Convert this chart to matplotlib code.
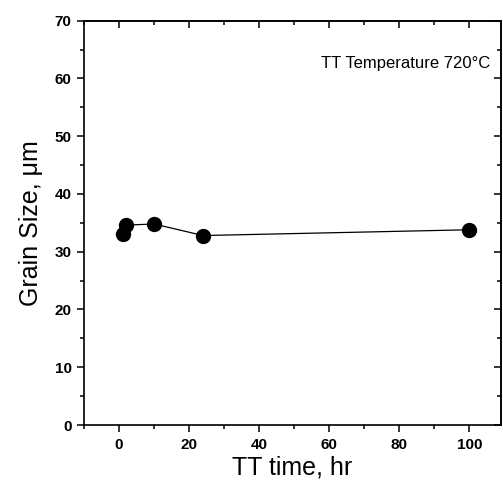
import matplotlib
matplotlib.use("Agg")
import matplotlib.pyplot as plt
from matplotlib.ticker import MultipleLocator

plt.rcParams["font.family"] = ["Liberation Sans", "DejaVu Sans"]

# TT time (hr) vs grain size (um) at 720 C
tt_time = [1, 2, 10, 24, 100]
grain_size = [33.1, 34.6, 34.8, 32.8, 33.8]

fig = plt.figure(figsize=(5.03, 4.86), dpi=100)
ax = fig.add_axes([0.167, 0.1255, 0.829, 0.832])

ax.plot(tt_time, grain_size, color="black", lw=0.9,
        marker="o", markersize=10, markerfacecolor="black", markeredgecolor="black")

ax.set_xlim(-10, 109)
ax.set_ylim(0, 70)
ax.xaxis.set_major_locator(MultipleLocator(20))
ax.xaxis.set_minor_locator(MultipleLocator(10))
ax.yaxis.set_major_locator(MultipleLocator(10))
ax.yaxis.set_minor_locator(MultipleLocator(5))

# Origin-style ticks: out on left/bottom, in on top/right
ax.tick_params(which="both", direction="out", top=False, right=False, width=1.1)
ax.tick_params(which="major", length=5, labelsize=11, pad=4)
ax.tick_params(which="minor", length=3)
for lab in ax.get_xticklabels() + ax.get_yticklabels():
    lab.set_fontweight("bold")

ax2 = ax.secondary_xaxis("top")
ax2.xaxis.set_major_locator(MultipleLocator(20))
ax2.xaxis.set_minor_locator(MultipleLocator(10))
ax2.tick_params(which="both", direction="in", labeltop=False, width=1.1)
ax2.tick_params(which="major", length=5)
ax2.tick_params(which="minor", length=3)

ax3 = ax.secondary_yaxis("right")
ax3.yaxis.set_major_locator(MultipleLocator(10))
ax3.yaxis.set_minor_locator(MultipleLocator(5))
ax3.tick_params(which="both", direction="in", labelright=False, width=1.1)
ax3.tick_params(which="major", length=5)
ax3.tick_params(which="minor", length=3)

for sp in list(ax.spines.values()) + [ax2.spines["top"], ax3.spines["right"]]:
    sp.set_linewidth(1.2)

ax.set_xlabel("TT time, hr", fontsize=18, labelpad=3)
ax.set_ylabel("Grain Size, \u03bcm", fontsize=18, labelpad=8)

ax.text(0.975, 0.895, "TT Temperature 720\u00b0C", transform=ax.transAxes,
        ha="right", va="center", fontsize=12)

fig.savefig("out.png", dpi=100)
